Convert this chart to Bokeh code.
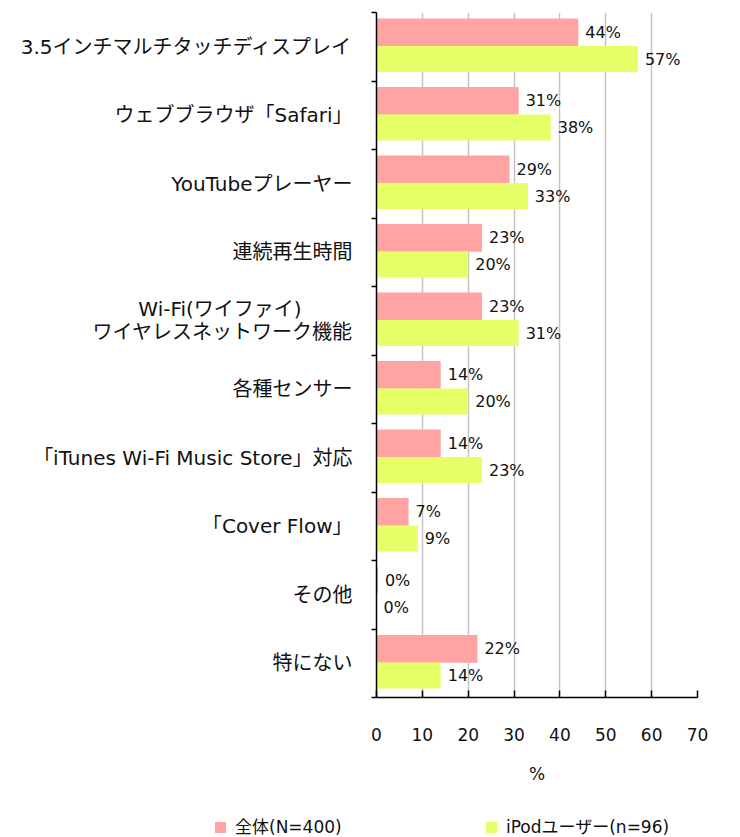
from bokeh.plotting import figure
from bokeh.layouts import column
from bokeh.models import ColumnDataSource, FixedTicker, Range1d, Div
from bokeh.core.properties import value
from bokeh.embed import file_html
from bokeh.resources import INLINE

categories = ["3.5インチマルチタッチディスプレイ", "ウェブブラウザ「Safari」", "YouTubeプレーヤー",
              "連続再生時間", "Wi-Fi(ワイファイ)\u00a0\u00a0\u00a0\u00a0\u00a0\u00a0\u00a0\u00a0\nワイヤレスネットワーク機能", "各種センサー",
              "「iTunes Wi-Fi Music Store」対応", "「Cover Flow」", "その他", "特にない"]
all_vals = [44, 31, 29, 23, 23, 14, 14, 7, 0.3, 22]
ipod_vals = [57, 38, 33, 20, 31, 20, 23, 9, 0, 14]
series_names = ["全体(N=400)", "iPodユーザー(n=96)"]
x_ticks = [0, 10, 20, 30, 40, 50, 60, 70]

FONT = "DejaVu Sans, Noto Sans CJK JP"
PINK = "#ffa3a3"
GREEN = "#e6ff66"
TXT = "#111111"

n = len(categories)
centers = [n - i - 0.5 for i in range(n)]
y_all = [n - i - 0.29 for i in range(n)]
y_ipod = [n - i - 0.68 for i in range(n)]

src_all = ColumnDataSource(dict(y=y_all, v=all_vals, lab=[f"{round(v)}%" for v in all_vals]))
src_ipod = ColumnDataSource(dict(y=y_ipod, v=ipod_vals, lab=[f"{round(v)}%" for v in ipod_vals]))

p = figure(width=740, height=800, output_backend="svg", toolbar_location=None,
           x_range=Range1d(0, 70), y_range=Range1d(0, n),
           min_border_left=376, min_border_right=43, min_border_top=12, min_border_bottom=103)
p.outline_line_color = None
p.background_fill_color = "white"
p.border_fill_color = "white"

r1 = p.hbar(y="y", right="v", left=0, height=0.405, source=src_all, fill_color=PINK, line_color=None)
r2 = p.hbar(y="y", right="v", left=0, height=0.38, source=src_ipod, fill_color=GREEN, line_color=None)

for src in (src_all, src_ipod):
    p.text(x="v", y="y", text="lab", source=src, x_offset=7, text_baseline="middle",
           text_align="left", text_font=value(FONT), text_font_size="16px", text_color=TXT)

# x axis
xa = p.xaxis[0]
xa.ticker = FixedTicker(ticks=x_ticks)
xa.axis_line_color = "black"
xa.axis_line_width = 1.5
xa.major_tick_in = 7
xa.major_tick_out = 0
xa.major_tick_line_color = "black"
xa.major_tick_line_width = 1.5
xa.minor_tick_line_color = None
xa.major_label_standoff = 30
xa.major_label_text_font = FONT
xa.major_label_text_font_size = "17px"
xa.major_label_text_color = TXT
xa.axis_label = "%"
xa.axis_label_text_font = FONT
xa.axis_label_text_font_size = "17px"
xa.axis_label_text_font_style = "normal"
xa.axis_label_text_color = TXT
xa.axis_label_standoff = 20

# y axis
ya = p.yaxis[0]
ya.ticker = FixedTicker(ticks=centers, minor_ticks=list(range(n + 1)))
ya.major_label_overrides = {c: categories[i] for i, c in enumerate(centers)}
ya.major_tick_line_color = None
ya.minor_tick_line_color = "black"
ya.minor_tick_line_width = 1.5
ya.minor_tick_out = 5
ya.minor_tick_in = 0
ya.axis_line_color = "black"
ya.axis_line_width = 1.5
ya.major_label_standoff = 18
ya.major_label_text_font = FONT
ya.major_label_text_font_size = "20px"
ya.major_label_text_color = TXT
ya.major_label_text_line_height = 0.95

p.xgrid.ticker = FixedTicker(ticks=x_ticks[1:])
p.xgrid.grid_line_color = "#c4c4c4"
p.xgrid.grid_line_width = 1.5
p.ygrid.grid_line_color = None

# legend strip (HTML, positioned under the chart)
def item(left, color, label):
    return (f'<span style="position:absolute;left:{left}px;top:22px;width:11px;height:11px;'
            f'background:{color};"></span>'
            f'<span style="position:absolute;left:{left + 20}px;top:17px;line-height:20px;'
            f'white-space:nowrap;">{label}</span>')

legend_html = ('<div style="position:relative;width:740px;height:37px;'
               "font-family:'DejaVu Sans','Noto Sans CJK JP',sans-serif;font-size:17px;"
               f'color:{TXT};">' + item(215, PINK, series_names[0]) + item(486, GREEN, series_names[1]) + '</div>')
leg = Div(text=legend_html, width=740, height=37, margin=0)

open("out.html", "w").write(file_html(column(p, leg, spacing=0), INLINE))
